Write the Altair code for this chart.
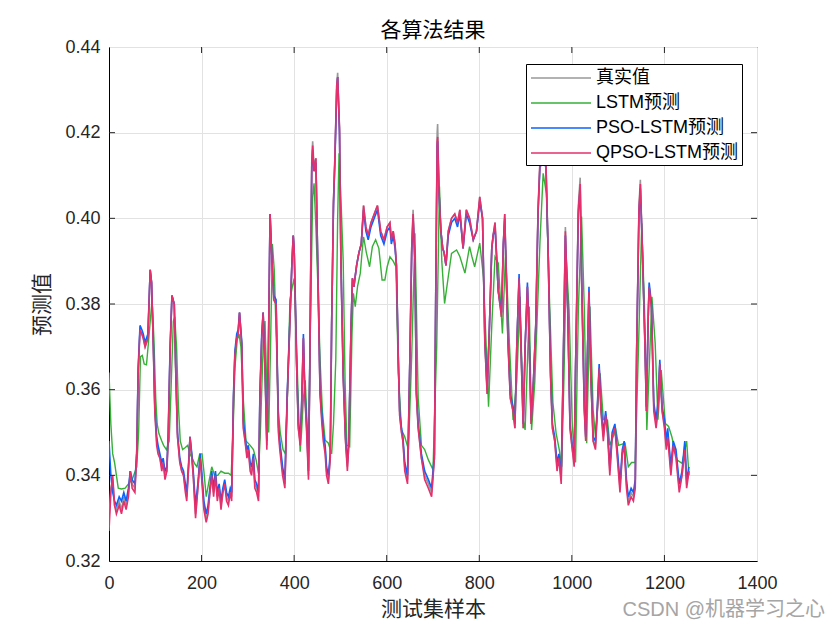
import altair as alt
import pandas as pd

# sample index positions
x_idx = [
    0, 4, 8, 12, 16, 22, 27, 32, 37, 42,
    46, 50, 56, 60, 63, 67, 71, 74, 78, 84,
    89, 92, 96, 99, 103, 106, 110, 114, 117, 121,
    125, 128, 132, 136, 141, 144, 148, 153, 157, 161,
    165, 168, 172, 175, 179, 182, 187, 192, 197, 201,
    205, 210, 214, 218, 222, 226, 230, 234, 238, 242,
    246, 250, 254, 258, 262, 265, 269, 272, 276, 279,
    282, 287, 290, 294, 298, 301, 305, 308, 312, 315,
    319, 323, 326, 330, 333, 337, 341, 344, 348, 351,
    356, 361, 366, 369, 375, 380, 385, 390, 395, 398,
    400, 402, 405, 409, 413, 416, 420, 423, 427, 431,
    434, 438, 440, 443, 447, 452, 456, 460, 463, 467,
    470, 474, 478, 481, 485, 488, 492, 494, 498, 501,
    506, 511, 515, 518, 523, 526, 529, 535, 540, 545,
    550, 555, 560, 566, 573, 580, 587, 594, 601, 607,
    610, 614, 618, 621, 625, 628, 632, 635, 639, 645,
    650, 654, 657, 661, 664, 668, 675, 682, 690, 697,
    703, 706, 709, 710, 713, 717, 721, 724, 728, 733,
    740, 747, 753, 758, 765, 772, 779, 787, 794, 801,
    807, 812, 817, 822, 827, 830, 834, 841, 848, 852,
    855, 862, 867, 873, 877, 881, 886, 890, 895, 899,
    904, 908, 912, 917, 922, 927, 931, 938, 944, 949,
    954, 958, 963, 968, 972, 977, 981, 986, 991, 996,
    1001, 1005, 1008, 1014, 1018, 1021, 1027, 1030, 1034, 1037,
    1041, 1046, 1051, 1055, 1059, 1063, 1068, 1073, 1077, 1082,
    1087, 1093, 1099, 1104, 1109, 1113, 1118, 1122, 1128, 1133,
    1137, 1140, 1145, 1148, 1152, 1158, 1161, 1165, 1167, 1172,
    1177, 1182, 1186, 1190, 1195, 1200, 1204, 1207, 1214, 1219,
    1225, 1232, 1238, 1244, 1248, 1253,
]

true_vals = [
    0.330, 0.337, 0.339, 0.333, 0.332, 0.334, 0.332, 0.335, 0.333, 0.336,
    0.341, 0.338, 0.337, 0.345, 0.364, 0.374, 0.373, 0.372, 0.370, 0.372,
    0.388, 0.385, 0.369, 0.355, 0.348, 0.346, 0.344, 0.342, 0.343, 0.340,
    0.341, 0.349, 0.369, 0.382, 0.380, 0.365, 0.349, 0.343, 0.341, 0.340,
    0.337, 0.335, 0.342, 0.349, 0.344, 0.340, 0.331, 0.337, 0.344, 0.339,
    0.333, 0.330, 0.332, 0.336, 0.340, 0.336, 0.340, 0.335, 0.337, 0.333,
    0.336, 0.338, 0.335, 0.334, 0.336, 0.335, 0.358, 0.368, 0.372, 0.373,
    0.378, 0.370, 0.352, 0.348, 0.345, 0.346, 0.342, 0.341, 0.344, 0.338,
    0.337, 0.335, 0.358, 0.372, 0.378, 0.365, 0.347, 0.365, 0.401, 0.393,
    0.381, 0.380, 0.351, 0.347, 0.341, 0.338, 0.358, 0.373, 0.389, 0.396,
    0.393, 0.383, 0.367, 0.351, 0.348, 0.355, 0.372, 0.359, 0.351, 0.340,
    0.367, 0.413, 0.418, 0.412, 0.414, 0.383, 0.359, 0.353, 0.349, 0.346,
    0.341, 0.339, 0.344, 0.375, 0.404, 0.414, 0.431, 0.434, 0.421, 0.390,
    0.363, 0.348, 0.342, 0.347, 0.375, 0.386, 0.384, 0.389, 0.392, 0.394,
    0.403, 0.398, 0.396, 0.399, 0.401, 0.403, 0.397, 0.395, 0.398, 0.399,
    0.395, 0.397, 0.394, 0.389, 0.367, 0.354, 0.350, 0.348, 0.342, 0.339,
    0.367, 0.393, 0.402, 0.390, 0.359, 0.351, 0.344, 0.340, 0.338, 0.336,
    0.344, 0.384, 0.420, 0.422, 0.407, 0.397, 0.393, 0.392, 0.389, 0.397,
    0.400, 0.401, 0.399, 0.402, 0.393, 0.402, 0.400, 0.395, 0.397, 0.405,
    0.400, 0.371, 0.359, 0.375, 0.393, 0.396, 0.399, 0.383, 0.377, 0.394,
    0.401, 0.371, 0.358, 0.355, 0.351, 0.370, 0.386, 0.370, 0.351, 0.370,
    0.384, 0.370, 0.352, 0.362, 0.375, 0.402, 0.413, 0.414, 0.413, 0.391,
    0.363, 0.351, 0.348, 0.342, 0.344, 0.339, 0.363, 0.398, 0.379, 0.351,
    0.346, 0.343, 0.365, 0.403, 0.4095, 0.386, 0.355, 0.348, 0.370, 0.383,
    0.363, 0.348, 0.347, 0.355, 0.365, 0.355, 0.349, 0.354, 0.350, 0.341,
    0.349, 0.351, 0.344, 0.337, 0.345, 0.347, 0.338, 0.334, 0.336, 0.335,
    0.338, 0.369, 0.403, 0.409, 0.394, 0.370, 0.355, 0.377, 0.384, 0.379,
    0.356, 0.352, 0.356, 0.366, 0.355, 0.352, 0.347, 0.350, 0.341, 0.347,
    0.345, 0.337, 0.340, 0.347, 0.338, 0.341,
]

pso_vals = [
    0.348, 0.340, 0.336, 0.334, 0.333, 0.335, 0.334, 0.336, 0.334, 0.337,
    0.341, 0.339, 0.338, 0.346, 0.365, 0.375, 0.374, 0.373, 0.371, 0.373,
    0.388, 0.385, 0.370, 0.356, 0.349, 0.347, 0.345, 0.343, 0.344, 0.341,
    0.342, 0.350, 0.370, 0.382, 0.380, 0.366, 0.350, 0.344, 0.342, 0.341,
    0.338, 0.336, 0.343, 0.349, 0.345, 0.341, 0.333, 0.338, 0.345, 0.340,
    0.334, 0.331, 0.333, 0.337, 0.341, 0.337, 0.341, 0.336, 0.338, 0.334,
    0.337, 0.339, 0.336, 0.335, 0.337, 0.336, 0.359, 0.369, 0.373, 0.374,
    0.378, 0.371, 0.353, 0.349, 0.346, 0.347, 0.343, 0.342, 0.345, 0.339,
    0.338, 0.336, 0.359, 0.373, 0.378, 0.366, 0.348, 0.366, 0.401, 0.393,
    0.382, 0.381, 0.352, 0.348, 0.342, 0.339, 0.359, 0.374, 0.389, 0.396,
    0.393, 0.384, 0.368, 0.352, 0.349, 0.356, 0.373, 0.360, 0.352, 0.341,
    0.368, 0.411, 0.416, 0.411, 0.413, 0.384, 0.360, 0.354, 0.350, 0.347,
    0.342, 0.340, 0.345, 0.375, 0.403, 0.413, 0.430, 0.433, 0.420, 0.391,
    0.364, 0.349, 0.343, 0.348, 0.375, 0.386, 0.384, 0.389, 0.392, 0.394,
    0.402, 0.397, 0.395, 0.398, 0.400, 0.402, 0.396, 0.394, 0.397, 0.398,
    0.394, 0.396, 0.393, 0.389, 0.368, 0.355, 0.351, 0.349, 0.343, 0.340,
    0.367, 0.392, 0.400, 0.390, 0.360, 0.352, 0.345, 0.341, 0.339, 0.337,
    0.345, 0.383, 0.417, 0.418, 0.406, 0.397, 0.393, 0.392, 0.389, 0.396,
    0.399, 0.400, 0.398, 0.401, 0.393, 0.401, 0.399, 0.395, 0.397, 0.404,
    0.400, 0.372, 0.360, 0.375, 0.393, 0.396, 0.398, 0.383, 0.378, 0.394,
    0.400, 0.372, 0.359, 0.356, 0.352, 0.370, 0.387, 0.371, 0.352, 0.370,
    0.385, 0.371, 0.353, 0.362, 0.375, 0.401, 0.412, 0.413, 0.412, 0.391,
    0.364, 0.352, 0.349, 0.343, 0.345, 0.340, 0.363, 0.396, 0.379, 0.352,
    0.347, 0.344, 0.365, 0.401, 0.407, 0.387, 0.356, 0.349, 0.370, 0.384,
    0.364, 0.349, 0.348, 0.356, 0.366, 0.356, 0.350, 0.355, 0.351, 0.342,
    0.350, 0.352, 0.345, 0.338, 0.346, 0.348, 0.339, 0.335, 0.337, 0.336,
    0.339, 0.369, 0.401, 0.407, 0.394, 0.371, 0.356, 0.377, 0.385, 0.380,
    0.357, 0.353, 0.357, 0.367, 0.356, 0.353, 0.348, 0.351, 0.342, 0.348,
    0.346, 0.338, 0.341, 0.348, 0.339, 0.342,
]

qpso_vals = [
    0.327, 0.336, 0.340, 0.333, 0.331, 0.333, 0.331, 0.334, 0.332, 0.335,
    0.341, 0.337, 0.336, 0.345, 0.364, 0.374, 0.373, 0.372, 0.370, 0.372,
    0.388, 0.385, 0.369, 0.355, 0.347, 0.345, 0.344, 0.341, 0.343, 0.339,
    0.341, 0.349, 0.369, 0.382, 0.380, 0.365, 0.349, 0.343, 0.341, 0.340,
    0.336, 0.334, 0.342, 0.349, 0.344, 0.340, 0.330, 0.337, 0.344, 0.338,
    0.332, 0.329, 0.331, 0.336, 0.340, 0.335, 0.340, 0.334, 0.337, 0.332,
    0.336, 0.338, 0.334, 0.333, 0.336, 0.334, 0.358, 0.368, 0.372, 0.373,
    0.378, 0.370, 0.351, 0.348, 0.344, 0.346, 0.341, 0.340, 0.344, 0.337,
    0.336, 0.334, 0.358, 0.372, 0.378, 0.365, 0.346, 0.365, 0.401, 0.393,
    0.381, 0.380, 0.350, 0.346, 0.340, 0.337, 0.358, 0.373, 0.389, 0.396,
    0.393, 0.383, 0.367, 0.351, 0.347, 0.355, 0.372, 0.359, 0.350, 0.339,
    0.367, 0.412, 0.417, 0.411, 0.414, 0.383, 0.359, 0.352, 0.348, 0.345,
    0.340, 0.338, 0.344, 0.375, 0.404, 0.414, 0.431, 0.433, 0.421, 0.390,
    0.363, 0.348, 0.341, 0.347, 0.375, 0.386, 0.384, 0.389, 0.392, 0.394,
    0.403, 0.398, 0.396, 0.399, 0.401, 0.403, 0.397, 0.395, 0.398, 0.399,
    0.395, 0.397, 0.394, 0.389, 0.367, 0.354, 0.350, 0.348, 0.341, 0.338,
    0.367, 0.393, 0.401, 0.390, 0.359, 0.351, 0.344, 0.339, 0.337, 0.335,
    0.344, 0.383, 0.418, 0.419, 0.406, 0.397, 0.393, 0.392, 0.389, 0.397,
    0.400, 0.401, 0.399, 0.402, 0.393, 0.402, 0.400, 0.395, 0.397, 0.405,
    0.400, 0.371, 0.359, 0.375, 0.393, 0.396, 0.399, 0.383, 0.377, 0.394,
    0.401, 0.371, 0.358, 0.355, 0.351, 0.370, 0.386, 0.370, 0.351, 0.370,
    0.384, 0.370, 0.352, 0.362, 0.375, 0.402, 0.413, 0.414, 0.413, 0.391,
    0.363, 0.351, 0.348, 0.341, 0.344, 0.338, 0.363, 0.397, 0.379, 0.351,
    0.346, 0.342, 0.365, 0.402, 0.408, 0.386, 0.355, 0.348, 0.370, 0.383,
    0.363, 0.348, 0.346, 0.355, 0.365, 0.355, 0.348, 0.354, 0.350, 0.340,
    0.349, 0.351, 0.343, 0.336, 0.345, 0.347, 0.337, 0.333, 0.335, 0.334,
    0.337, 0.369, 0.402, 0.408, 0.394, 0.370, 0.355, 0.377, 0.384, 0.379,
    0.355, 0.351, 0.355, 0.366, 0.355, 0.351, 0.346, 0.349, 0.340, 0.347,
    0.344, 0.336, 0.340, 0.346, 0.337, 0.341,
]

lstm_x = [
    0, 4, 8, 12, 16, 20, 27, 35, 42, 50,
    55, 60, 64, 68, 72, 76, 81, 86, 93, 97,
    101, 104, 108, 114, 118, 124, 130, 134, 139, 142,
    146, 150, 154, 159, 165, 170, 175, 180, 185, 190,
    196, 201, 205, 210, 215, 222, 228, 235, 242, 250,
    258, 264, 268, 272, 277, 281, 285, 290, 296, 305,
    312, 318, 323, 327, 333, 337, 341, 345, 349, 353,
    357, 362, 366, 370, 376, 381, 386, 391, 396, 400,
    404, 409, 413, 416, 420, 424, 428, 431, 436, 440,
    443, 447, 452, 456, 461, 467, 474, 481, 485, 490,
    494, 497, 501, 506, 510, 514, 520, 525, 528, 532,
    537, 543, 547, 550, 556, 563, 569, 576, 583, 590,
    596, 601, 607, 614, 620, 625, 632, 639, 647, 654,
    661, 668, 675, 682, 690, 700, 708, 714, 719, 725,
    732, 740, 751, 758, 769, 779, 784, 790, 801, 809,
    815, 820, 827, 834, 841, 850, 857, 865, 873, 881,
    888, 895, 899, 908, 913, 920, 931, 938, 945, 952,
    959, 966, 973, 978, 983, 988, 994, 1001, 1008, 1014,
    1021, 1027, 1032, 1039, 1046, 1051, 1061, 1068, 1077, 1082,
    1095, 1101, 1115, 1122, 1129, 1137, 1144, 1151, 1157, 1162,
    1173, 1180, 1186, 1193, 1202, 1209, 1216, 1227, 1238, 1248,
    1253,
]

lstm_vals = [
    0.364, 0.352, 0.345, 0.343, 0.340, 0.337, 0.3368, 0.337, 0.338, 0.339,
    0.3405, 0.342, 0.350, 0.3677, 0.368, 0.366, 0.3658, 0.372, 0.381, 0.372,
    0.358, 0.352, 0.3497, 0.348, 0.347, 0.346, 0.348, 0.360, 0.376, 0.377,
    0.370, 0.356, 0.348, 0.346, 0.3465, 0.347, 0.345, 0.344, 0.3427, 0.342,
    0.345, 0.345, 0.341, 0.335, 0.338, 0.342, 0.340, 0.340, 0.341, 0.3405,
    0.3405, 0.340, 0.350, 0.365, 0.3716, 0.373, 0.370, 0.358, 0.348, 0.347,
    0.346, 0.3435, 0.3404, 0.350, 0.370, 0.376, 0.360, 0.350, 0.370, 0.394,
    0.388, 0.370, 0.355, 0.350, 0.346, 0.345, 0.360, 0.381, 0.384, 0.386,
    0.375, 0.357, 0.3455, 0.350, 0.358, 0.3622, 0.352, 0.346, 0.380, 0.405,
    0.4082, 0.398, 0.382, 0.367, 0.355, 0.3482, 0.3475, 0.345, 0.352, 0.367,
    0.400, 0.4152, 0.405, 0.390, 0.362, 0.347, 0.3467, 0.373, 0.3825, 0.3794,
    0.3841, 0.3872, 0.3925, 0.3957, 0.392, 0.3887, 0.3934, 0.395, 0.393, 0.3856,
    0.3856, 0.3887, 0.391, 0.390, 0.3887, 0.364, 0.3506, 0.349, 0.346, 0.368,
    0.3965, 0.358, 0.347, 0.346, 0.3436, 0.3413, 0.370, 0.4074, 0.390, 0.3801,
    0.3856, 0.3918, 0.3926, 0.3911, 0.3872, 0.3934, 0.3911, 0.3887, 0.3942, 0.3864,
    0.370, 0.356, 0.375, 0.391, 0.3895, 0.3731, 0.3926, 0.371, 0.3529, 0.362,
    0.3817, 0.3529, 0.3506, 0.3794, 0.3506, 0.362, 0.3942, 0.4105, 0.4058, 0.380,
    0.357, 0.3498, 0.3459, 0.342, 0.363, 0.3903, 0.3786, 0.3514, 0.343, 0.3786,
    0.4004, 0.3786, 0.3475, 0.3794, 0.3553, 0.349, 0.3638, 0.353, 0.3529, 0.347,
    0.3506, 0.347, 0.3475, 0.342, 0.343, 0.343, 0.370, 0.3988, 0.3786, 0.3506,
    0.3817, 0.3708, 0.353, 0.3646, 0.3521, 0.3514, 0.349, 0.3436, 0.3428, 0.348,
    0.340,
]

series_names = ["真实值", "LSTM预测", "PSO-LSTM预测", "QPSO-LSTM预测"]
series_colors = ["#999999", "#36b036", "#0a62ff", "#e4306c"]
x_ticks = [0, 200, 400, 600, 800, 1000, 1200, 1400]
y_ticks = [0.32, 0.34, 0.36, 0.38, 0.40, 0.42, 0.44]
watermark = ["CSDN @机器学习之心"]

assert len(x_idx) == len(true_vals) == len(pso_vals) == len(qpso_vals)
assert len(lstm_x) == len(lstm_vals)

LAT = "Liberation Sans, Noto Sans CJK SC"
CJK = "Noto Sans CJK SC"
TICK = "#262626"

color_scale = alt.Scale(domain=series_names, range=series_colors)
legend = alt.Legend(
    title=None, orient="none", legendX=417, legendY=17,
    symbolType="M-3,0H3", symbolSize=400, symbolStrokeWidth=1.5,
    symbolOffset=21, labelOffset=24, padding=3, rowPadding=5,
    strokeColor="black", fillColor="white",
    labelFont=LAT, labelFontSize=18, labelColor="black", labelLimit=300,
)

xenc = alt.X("x:Q", scale=alt.Scale(domain=[0, 1400], nice=False),
             axis=alt.Axis(values=x_ticks, title="测试集样本", format="d"))
yenc = alt.Y("y:Q", scale=alt.Scale(domain=[0.32, 0.44], nice=False, zero=False),
             axis=alt.Axis(values=y_ticks, title="预测值", format=".2f"))


def layer(xs, ys, name, width):
    df = pd.DataFrame({"x": xs, "y": ys, "series": name})
    return alt.Chart(df).mark_line(strokeWidth=width, clip=True).encode(
        x=xenc, y=yenc,
        color=alt.Color("series:N", scale=color_scale, legend=legend),
        order=alt.Order("x:Q"),
    )


# inward tick marks (MATLAB style) on all four sides
xt = pd.DataFrame({"x": x_ticks[1:-1]})
yt = pd.DataFrame({"y": y_ticks[1:-1]})
tick_b = alt.Chart(xt).mark_rule(color=TICK, strokeWidth=1).encode(
    x=xenc, y=alt.value(514), y2=alt.value(508))
tick_t = alt.Chart(xt).mark_rule(color=TICK, strokeWidth=1).encode(
    x=xenc, y=alt.value(0), y2=alt.value(6))
tick_l = alt.Chart(yt).mark_rule(color=TICK, strokeWidth=1).encode(
    y=yenc, x=alt.value(0), x2=alt.value(6))
tick_r = alt.Chart(yt).mark_rule(color=TICK, strokeWidth=1).encode(
    y=yenc, x=alt.value(648), x2=alt.value(642))

wm = alt.Chart(pd.DataFrame({"t": watermark})).mark_text(
    align="right", baseline="middle", fontSize=20, color="#a5a5a5", font=LAT
).encode(x=alt.value(716), y=alt.value(563), text="t:N")

chart = alt.layer(
    layer(x_idx, true_vals, series_names[0], 1.6),
    layer(lstm_x, lstm_vals, series_names[1], 1.4),
    layer(x_idx, pso_vals, series_names[2], 1.6),
    layer(x_idx, qpso_vals, series_names[3], 1.6),
    tick_b, tick_t, tick_l, tick_r,
    wm,
).properties(
    width=648, height=514,
    title=alt.TitleParams("各算法结果", font=CJK, fontSize=21, fontWeight="normal",
                          color="black", anchor="middle", offset=-3),
    autosize=alt.AutoSizeParams(type="none"),
    padding={"left": 109, "top": 47, "right": 83, "bottom": 69},
    background="white",
).configure_view(
    stroke="black", strokeWidth=1
).configure_axis(
    domainColor="black", domainWidth=1,
    gridColor="#e2e2e2", gridWidth=1,
    ticks=False, labelFlush=False,
    labelFont=LAT, labelFontSize=18, labelColor=TICK,
    titleFont=CJK, titleFontSize=21, titleFontWeight="normal", titleColor=TICK,
).configure_axisX(
    labelPadding=13, titlePadding=6
).configure_axisY(
    labelPadding=9, titlePadding=12
)

chart.save("out.html", embed_options={"renderer": "svg", "actions": False})
